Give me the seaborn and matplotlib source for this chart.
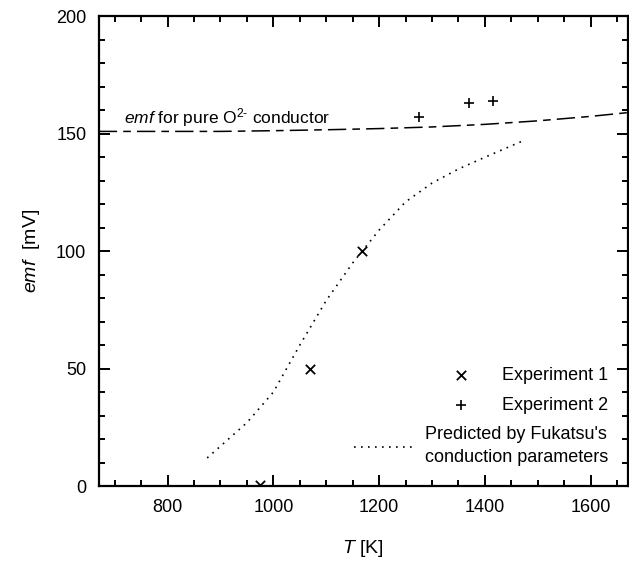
import pandas as pd
import seaborn as sns
import matplotlib.pyplot as plt
from matplotlib.ticker import MultipleLocator

# --- data ---
exp1_T = [975, 1070, 1168]
exp1_emf = [0.5, 50, 100]

exp2_T = [1275, 1370, 1415]
exp2_emf = [157, 163, 164]

# emf for a pure O2- conductor (dash line)
pure_T = [670, 800, 900, 1000, 1100, 1200, 1300, 1400, 1500, 1600, 1670]
pure_emf = [151, 151, 151, 151.3, 151.7, 152.2, 152.9, 154, 155.5, 157.4, 159]

# predicted by Fukatsu's conduction parameters (dotted line)
pred_T = [875, 900, 950, 1000, 1050, 1100, 1150, 1200, 1250, 1300, 1350, 1400, 1472]
pred_emf = [12, 17, 27, 40, 60, 79, 95, 109, 121, 129, 135, 140, 147]


def create_plot():
    sns.set_style("ticks")
    plt.rcParams["font.family"] = ["Liberation Sans", "DejaVu Sans"]
    plt.rcParams["mathtext.fontset"] = "custom"
    plt.rcParams["mathtext.rm"] = "Liberation Sans"
    plt.rcParams["mathtext.it"] = "Liberation Sans:italic"
    plt.rcParams["text.color"] = "black"
    plt.rcParams["axes.labelcolor"] = "black"

    fig = plt.figure(figsize=(6.29, 5.62), dpi=100)
    ax = fig.add_axes([0.157, 0.135, 0.841, 0.836])

    pure_df = pd.DataFrame({"T": pure_T, "emf": pure_emf})
    pred_df = pd.DataFrame({"T": pred_T, "emf": pred_emf})
    e1 = pd.DataFrame({"T": exp1_T, "emf": exp1_emf})
    e2 = pd.DataFrame({"T": exp2_T, "emf": exp2_emf})

    sns.lineplot(data=pure_df, x="T", y="emf", ax=ax, color="black",
                 linewidth=1.1, dashes=False, legend=False)
    ax.lines[-1].set_dashes((12, 4, 5, 4))

    sns.scatterplot(data=e1, x="T", y="emf", ax=ax, marker="x", color="black",
                    s=45, linewidth=1.3, label="Experiment 1", zorder=3)
    sns.scatterplot(data=e2, x="T", y="emf", ax=ax, marker="+", color="black",
                    s=55, linewidth=1.2, label="Experiment 2", zorder=3)
    sns.lineplot(data=pred_df, x="T", y="emf", ax=ax, color="black",
                 linewidth=1.2, linestyle=(0, (1, 3.2)),
                 label="Predicted by Fukatsu's\nconduction parameters")

    ax.text(717, 157, "$emf$ for pure O$^{2\\text{-}}$ conductor",
            fontsize=12.5, va="center", ha="left")

    ax.set_xlim(670, 1670)
    ax.set_ylim(0, 200)
    ax.xaxis.set_major_locator(MultipleLocator(200))
    ax.xaxis.set_minor_locator(MultipleLocator(50))
    ax.yaxis.set_major_locator(MultipleLocator(50))
    ax.yaxis.set_minor_locator(MultipleLocator(10))
    ax.tick_params(which="both", direction="in", top=True, right=True,
                   labelsize=13, pad=9, width=1.4, colors="black")
    ax.tick_params(which="major", length=8)
    ax.tick_params(which="minor", length=4.5)
    for sp in ax.spines.values():
        sp.set_linewidth(1.6)
        sp.set_color("black")

    ax.set_xlabel("$T$ [K]", fontsize=14, labelpad=16)
    ax.set_ylabel("$emf$  [mV]", fontsize=14, labelpad=10)

    leg = ax.legend(loc="lower right", frameon=False, fontsize=13,
                    handlelength=3.3, handletextpad=0.6, labelspacing=0.7,
                    borderaxespad=0.7)
    leg.get_texts()[2].set_linespacing(1.45)
    for col in leg._legend_handle_box.get_children():
        col.align = "right"

    fig.savefig("out.png", dpi=100)
    plt.close(fig)


if __name__ == "__main__":
    create_plot()
